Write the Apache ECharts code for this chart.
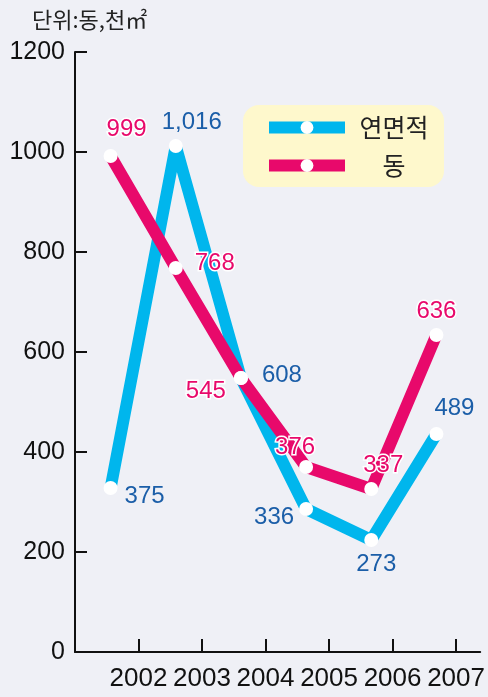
<!DOCTYPE html>
<html>
<head>
<meta charset="utf-8">
<script src="https://cdn.jsdelivr.net/npm/echarts@6/dist/echarts.min.js"></script>
<style>
  html, body { margin: 0; padding: 0; background: #eff0f6; }
  #chart { width: 488px; height: 697px; }
</style>
</head>
<body>
<div id="chart"></div>
<script>
const years = ["2002", "2003", "2004", "2005", "2006", "2007"];
const yearTicks = [1, 2, 3, 4, 5, 6];

// values as drawn (positions), printed labels kept separately
const areaValues = [328, 1012, 548, 286, 224, 436];
const countValues = [992, 768, 548, 370, 326, 634];
const areaLabels = ["375", "1,016", "608", "336", "273", "489"];
const countLabels = ["999", "768", "545", "376", "337", "636"];

const yTicks = [0, 200, 400, 600, 800, 1000, 1200];

const CYAN = "#00b6ed";
const MAGENTA = "#e8096b";
const BLUE_TEXT = "#1b5ea8";

const areaLabelPos = [
  { position: "right", offset: [2, 8] },
  { position: "top", offset: [16, 0] },
  { position: "right", offset: [9, -3] },
  { position: "left", offset: [0, 8] },
  { position: "bottom", offset: [5, 0] },
  { position: "top", offset: [18, -2] },
];
const countLabelPos = [
  { position: "top", offset: [16, -3] },
  { position: "right", offset: [7, -5] },
  { position: "left", offset: [-3, 13] },
  { position: "top", offset: [-11, 4] },
  { position: "top", offset: [12, 0] },
  { position: "top", offset: [0, 0] },
];

const chart = echarts.init(document.getElementById("chart"), null, { renderer: "canvas" });

const axisBlack = { color: "#111", width: 2 };

chart.setOption({
  backgroundColor: "#eff0f6",
  animation: false,
  title: {
    text: "단위:동,천㎡",
    left: 27,
    top: 4,
    textStyle: {
      fontFamily: "Noto Sans CJK KR",
      fontSize: 22,
      fontWeight: "normal",
      color: "#222",
    },
  },
  legend: {
    orient: "vertical",
    left: 243,
    top: 105,
    backgroundColor: "#fef8cc",
    borderRadius: 16,
    padding: [10, 6, 9, 20],
    itemWidth: 76,
    itemHeight: 16,
    itemGap: 13,
    lineStyle: { width: 12 },
    formatter: (name) => `{n|${name}}`,
    textStyle: {
      color: "#222",
      rich: {
        n: {
          width: 88,
          align: "center",
          fontFamily: "Noto Sans CJK KR",
          fontSize: 25,
          lineHeight: 30,
          color: "#222",
        },
      },
    },
  },
  grid: [
    { left: 78, right: 19, top: 52, bottom: 45 },
    { left: 75, right: 1, top: 52, bottom: 45 },
  ],
  xAxis: [
    {
      gridIndex: 0,
      type: "category",
      data: years,
      boundaryGap: true,
      show: false,
    },
    {
      gridIndex: 1,
      type: "value",
      min: 0,
      max: 6.38,
      interval: 1,
      splitLine: { show: false },
      axisLine: { show: true, lineStyle: axisBlack },
      axisTick: {
        show: true,
        inside: true,
        length: 13,
        lineStyle: axisBlack,
        customValues: yearTicks,
      },
      axisLabel: {
        customValues: yearTicks,
        formatter: (v) => years[Math.round(v) - 1] || "",
        color: "#111",
        fontFamily: "Liberation Sans Narrow, Liberation Sans, sans-serif",
        fontSize: 26,
        margin: 14,
      },
    },
  ],
  yAxis: [
    { gridIndex: 0, type: "value", min: 0, max: 1200, interval: 200, show: false },
    {
      gridIndex: 1,
      type: "value",
      min: 0,
      max: 1200,
      interval: 200,
      splitLine: { show: false },
      axisLine: { show: true, lineStyle: axisBlack },
      axisTick: { show: true, inside: true, length: 12, lineStyle: axisBlack },
      axisLabel: {
        formatter: (v) => (yTicks.includes(v) ? String(v) : ""),
        color: "#111",
        fontFamily: "Liberation Sans, Arial, sans-serif",
        fontSize: 25,
        margin: 10,
      },
    },
  ],
  series: [
    {
      name: "연면적",
      type: "line",
      xAxisIndex: 0,
      yAxisIndex: 0,
      data: areaValues.map((v, i) => ({ value: v, label: areaLabelPos[i] })),
      symbol: "circle",
      symbolSize: 14,
      lineStyle: { color: CYAN, width: 12 },
      itemStyle: { color: "#fff" },
      label: {
        show: true,
        formatter: (p) => areaLabels[p.dataIndex],
        color: BLUE_TEXT,
        fontFamily: "Liberation Sans, Arial, sans-serif",
        fontSize: 24,
      },
    },
    {
      name: "동",
      type: "line",
      xAxisIndex: 0,
      yAxisIndex: 0,
      data: countValues.map((v, i) => ({ value: v, label: countLabelPos[i] })),
      symbol: "circle",
      symbolSize: 14,
      lineStyle: { color: MAGENTA, width: 12 },
      itemStyle: { color: "#fff" },
      label: {
        show: true,
        formatter: (p) => countLabels[p.dataIndex],
        color: MAGENTA,
        textBorderColor: "#fff",
        textBorderWidth: 3,
        fontFamily: "Liberation Sans, Arial, sans-serif",
        fontSize: 24,
      },
    },
  ],
});
</script>
</body>
</html>
